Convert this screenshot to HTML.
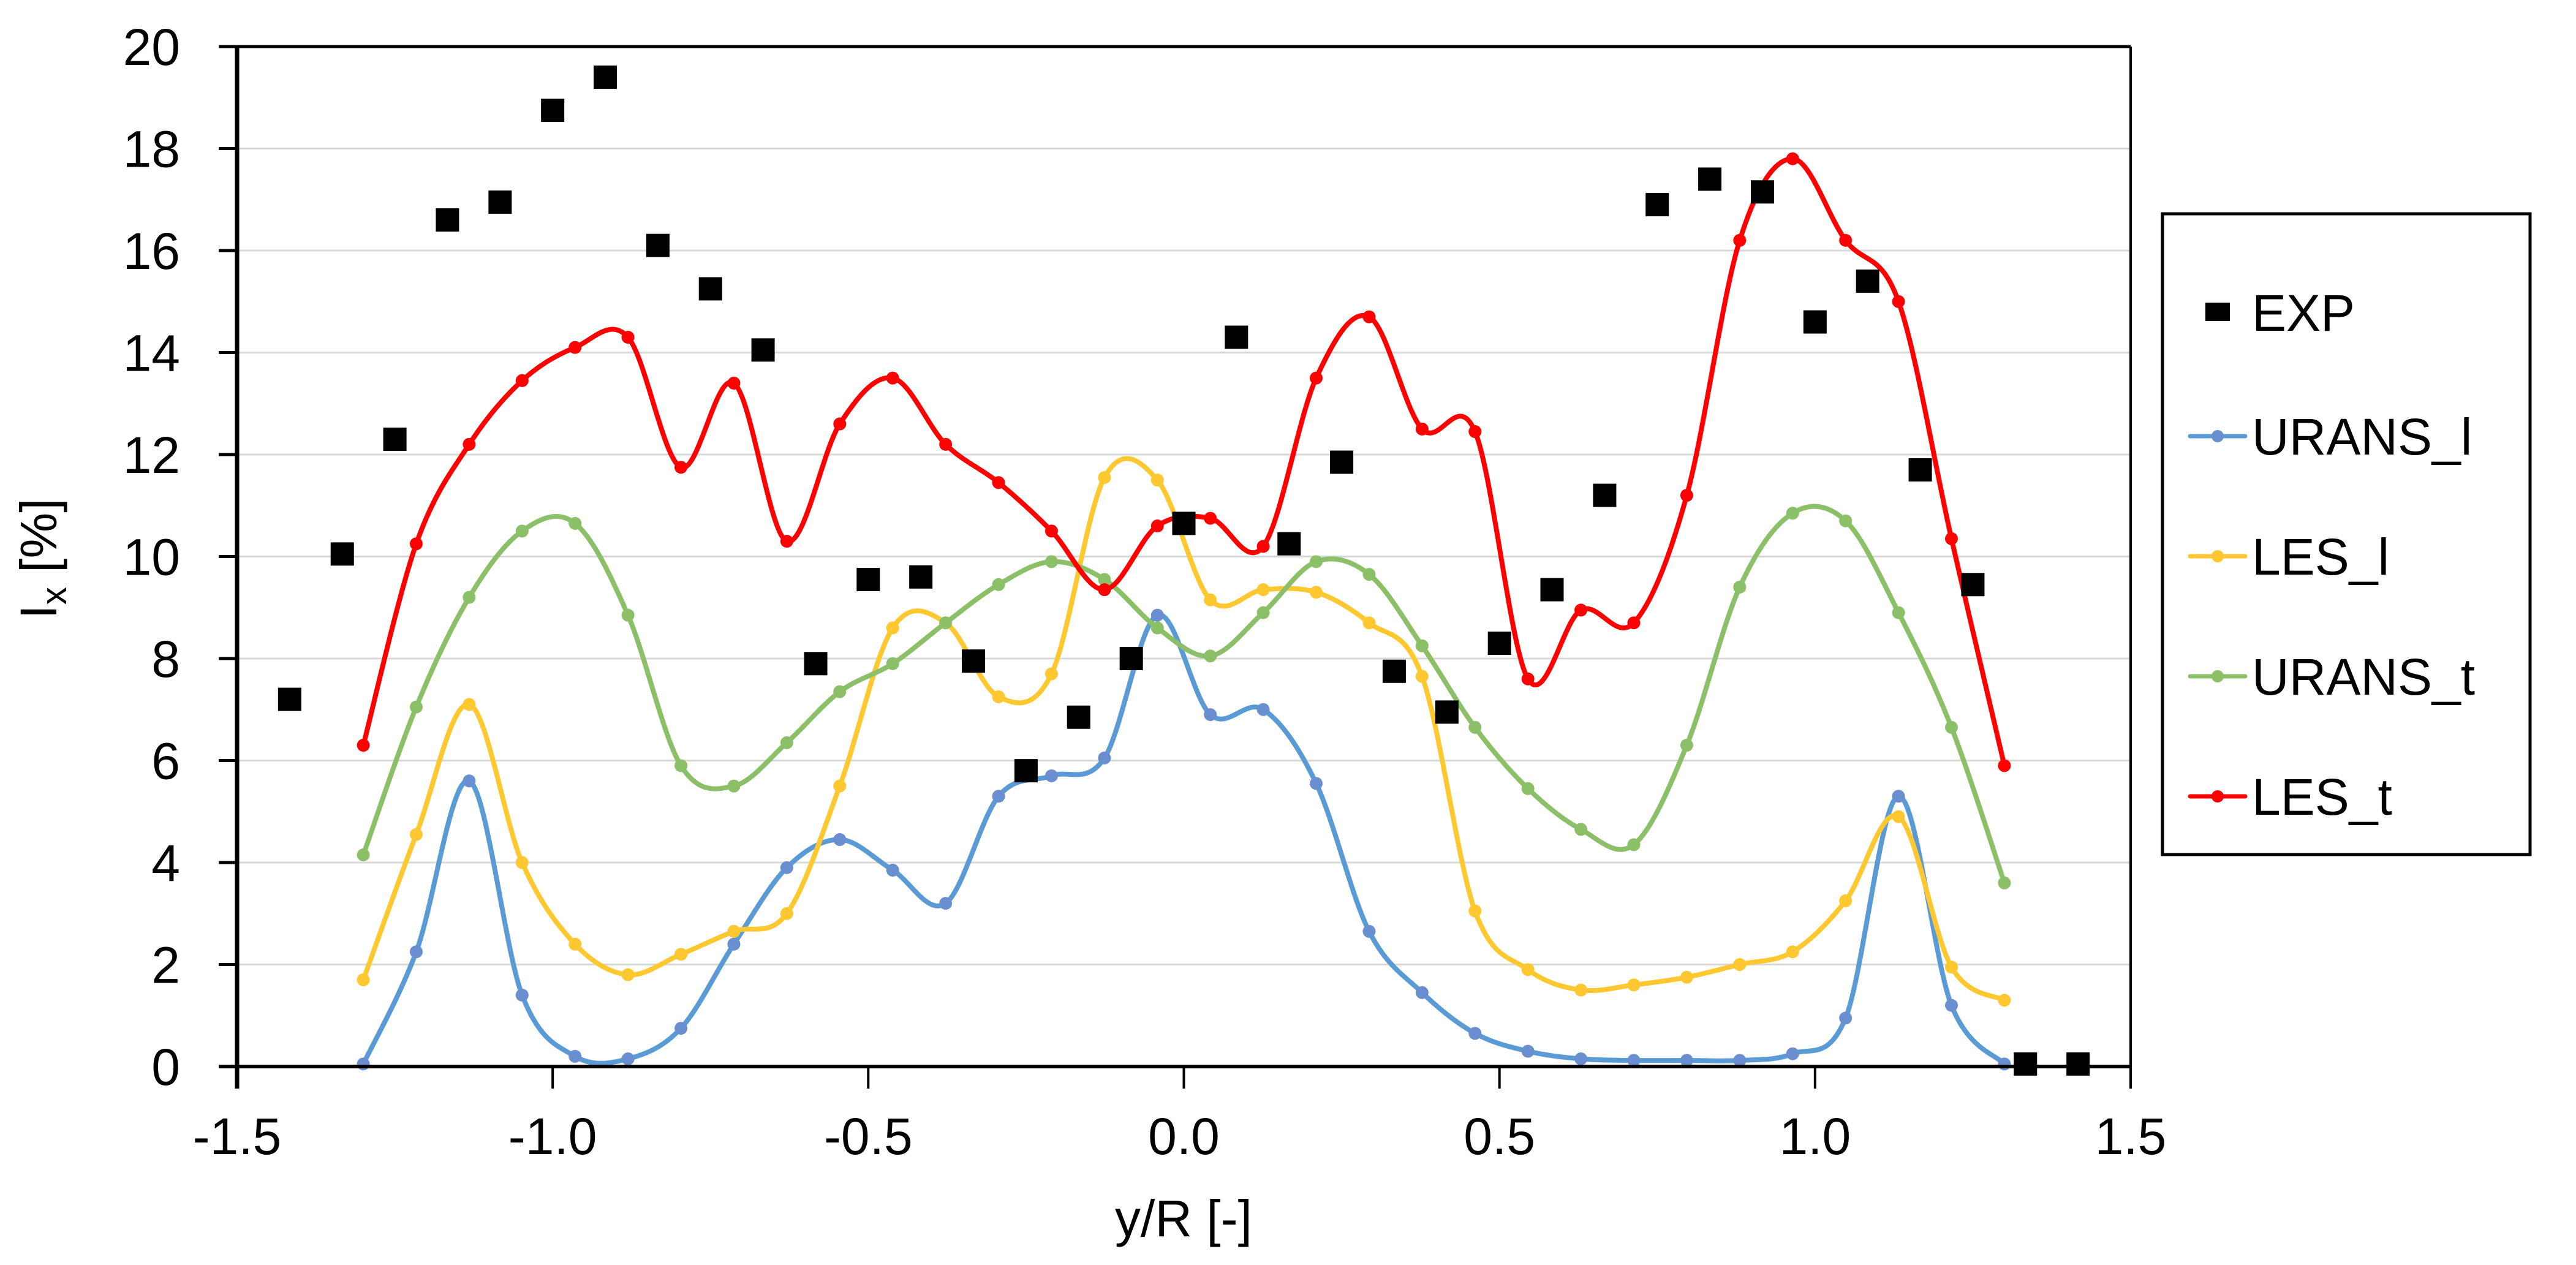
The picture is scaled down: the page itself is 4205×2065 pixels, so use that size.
<!DOCTYPE html>
<html><head><meta charset="utf-8"><style>
html,body{margin:0;padding:0;background:#fff;}
svg{display:block;font-family:"Liberation Sans",Arial,sans-serif;}
</style></head><body>
<svg id="chart" width="4205" height="2065" viewBox="0 0 4205 2065" xmlns="http://www.w3.org/2000/svg">
<rect width="4205" height="2065" fill="#fff"/>
<g id="grid"></g>
<g id="series"></g>
<g id="axes"></g>
<text transform="translate(92,912) rotate(-90)" text-anchor="middle" font-size="84">I<tspan font-size="58" dy="16">x</tspan><tspan dy="-16"> [%]</tspan></text>
<text x="1932" y="2018" text-anchor="middle" font-size="84">y/R [-]</text>
<g>
<rect x="3530" y="349" width="600" height="1046" fill="#fff" stroke="#000" stroke-width="5"/>
<rect x="3600" y="494" width="40" height="30" fill="#000"/>
<text x="3676" y="540" font-size="84">EXP</text>
<line x1="3575" y1="712" x2="3665" y2="712" stroke="#5b9bd5" stroke-width="7" stroke-linecap="round"/>
<circle cx="3620" cy="712" r="10" fill="#6a8fd0"/>
<text x="3676" y="742" font-size="84">URANS_l</text>
<line x1="3575" y1="908" x2="3665" y2="908" stroke="#ffc830" stroke-width="7" stroke-linecap="round"/>
<circle cx="3620" cy="908" r="10" fill="#ffc830"/>
<text x="3676" y="938" font-size="84">LES_l</text>
<line x1="3575" y1="1104" x2="3665" y2="1104" stroke="#8cc068" stroke-width="7" stroke-linecap="round"/>
<circle cx="3620" cy="1104" r="10" fill="#8cc068"/>
<text x="3676" y="1134" font-size="84">URANS_t</text>
<line x1="3575" y1="1300" x2="3665" y2="1300" stroke="#ff0000" stroke-width="7" stroke-linecap="round"/>
<circle cx="3620" cy="1300" r="10" fill="#ff0000"/>
<text x="3676" y="1330" font-size="84">LES_t</text>
</g>
</svg>
<script>
const yTicks = [0,2,4,6,8,10,12,14,16,18,20];
const xTicks = [-1.5,-1.0,-0.5,0.0,0.5,1.0,1.5];
const xTickLabels = ["-1.5","-1.0","-0.5","0.0","0.5","1.0","1.5"];
const simN = 32;
const uransL = [0.05,2.25,5.6,1.4,0.2,0.15,0.75,2.4,3.9,4.45,3.85,3.2,5.3,5.7,6.05,8.85,6.9,7.0,5.55,2.65,1.45,0.65,0.3,0.15,0.12,0.12,0.12,0.25,0.95,5.3,1.2,0.05];
const lesL = [1.7,4.55,7.1,4.0,2.4,1.8,2.2,2.65,3.0,5.5,8.6,8.7,7.25,7.7,11.55,11.5,9.15,9.35,9.3,8.7,7.65,3.05,1.9,1.5,1.6,1.75,2.0,2.25,3.25,4.9,1.95,1.3];
const uransT = [4.15,7.05,9.2,10.5,10.65,8.85,5.9,5.5,6.35,7.35,7.9,8.7,9.45,9.9,9.55,8.6,8.05,8.9,9.9,9.65,8.25,6.65,5.45,4.65,4.35,6.3,9.4,10.85,10.7,8.9,6.65,3.6];
const lesT = [6.3,10.25,12.2,13.45,14.1,14.3,11.75,13.4,10.3,12.6,13.5,12.2,11.45,10.5,9.35,10.6,10.75,10.2,13.5,14.7,12.5,12.45,7.6,8.95,8.7,11.2,16.2,17.8,16.2,15.0,10.35,5.9];
const expX = [-1.4167,-1.3333,-1.25,-1.1667,-1.0833,-1.0,-0.9167,-0.8333,-0.75,-0.6667,-0.5833,-0.5,-0.4167,-0.3333,-0.25,-0.1667,-0.0833,0.0,0.0833,0.1667,0.25,0.3333,0.4167,0.5,0.5833,0.6667,0.75,0.8333,0.9167,1.0,1.0833,1.1667,1.25,1.3333,1.4167];
const expY = [7.2,10.05,12.3,16.6,16.95,18.75,19.4,16.1,15.25,14.05,7.9,9.55,9.6,7.95,5.8,6.85,8.0,10.65,14.3,10.25,11.85,7.75,6.95,8.3,9.35,11.2,16.9,17.4,17.15,14.6,15.4,11.7,9.45,0.05,0.05];

const NS='http://www.w3.org/2000/svg';
const X0=387,X1=3478,Y0=1741,Y1=76;
function sx(v){return X0+(v+1.5)/3*(X1-X0);}
function sy(v){return Y0-v/20*(Y0-Y1);}
function mk(tag,attrs,parent){const e=document.createElementNS(NS,tag);for(const k in attrs)e.setAttribute(k,attrs[k]);parent.appendChild(e);return e;}
const gridG=document.getElementById('grid'),axesG=document.getElementById('axes'),serG=document.getElementById('series');

yTicks.forEach(t=>{
  if(t>0&&t<20){const g=mk('line',{x1:X0,x2:X1,y1:sy(t),y2:sy(t),stroke:'#d9d9d9','stroke-width':3},gridG);
  
  }
  const tk=mk('line',{x1:X0-30,x2:X0,y1:sy(t),y2:sy(t),stroke:'#000','stroke-width':5},axesG);
  
  
  const lb=mk('text',{x:294,y:sy(t)+30,'text-anchor':'end','font-size':84},axesG);
  lb.textContent=t;
  
  
});
xTicks.forEach((t,i)=>{
  const tk=mk('line',{x1:sx(t),x2:sx(t),y1:Y0,y2:Y0+36,stroke:'#000','stroke-width':4},axesG);
  
  
  const lb=mk('text',{x:sx(t),y:1884,'text-anchor':'middle','font-size':84},axesG);
  lb.textContent=xTickLabels[i];
  
  
});
const borderTop=mk('line',{x1:X0,x2:X1,y1:Y1,y2:Y1,stroke:'#000','stroke-width':5},axesG);


const borderRight=mk('line',{x1:X1,x2:X1,y1:Y1,y2:Y0,stroke:'#000','stroke-width':4},axesG);


const xAxisLine=mk('line',{x1:X0-30,x2:X1,y1:Y0,y2:Y0,stroke:'#000','stroke-width':6},axesG);


const yAxisLine=mk('line',{x1:X0,x2:X0,y1:Y1-2,y2:Y0+36,stroke:'#000','stroke-width':7},axesG);



function simX(i){return -1.3+i*2.6/(simN-1);}
function smooth(pts){
  let d='M'+pts[0][0]+','+pts[0][1];
  for(let i=0;i<pts.length-1;i++){
    const p0=pts[Math.max(0,i-1)],p1=pts[i],p2=pts[i+1],p3=pts[Math.min(pts.length-1,i+2)];
    const c1=[p1[0]+(p2[0]-p0[0])/6,p1[1]+(p2[1]-p0[1])/6];
    const c2=[p2[0]-(p3[0]-p1[0])/6,p2[1]-(p3[1]-p1[1])/6];
    d+=' C'+c1[0]+','+c1[1]+' '+c2[0]+','+c2[1]+' '+p2[0]+','+p2[1];
  }
  return d;
}
function drawSeries(vals,lineCol,dotCol,name){
  const g=mk('g',{},serG);
  
  
  const pts=vals.map((v,i)=>[sx(simX(i)),sy(v)]);
  const p=mk('path',{d:smooth(pts),fill:'none',stroke:lineCol,'stroke-width':8,'stroke-linejoin':'round'},g);
  
  
  pts.forEach(q=>{
    const c=mk('circle',{cx:q[0],cy:q[1],r:10.5,fill:dotCol},g);
    
    
  });
}
drawSeries(uransL,'#5b9bd5','#6a8fd0','urans-l');
drawSeries(lesL,'#ffc830','#ffc830','les-l');
drawSeries(uransT,'#8cc068','#8cc068','urans-t');
drawSeries(lesT,'#ff0000','#ff0000','les-t');
expX.forEach((x,i)=>{
  const r=mk('rect',{x:sx(x)-19,y:sy(expY[i])-19,width:38,height:38,fill:'#000'},serG);
  
  
});
</script>
</body></html>
